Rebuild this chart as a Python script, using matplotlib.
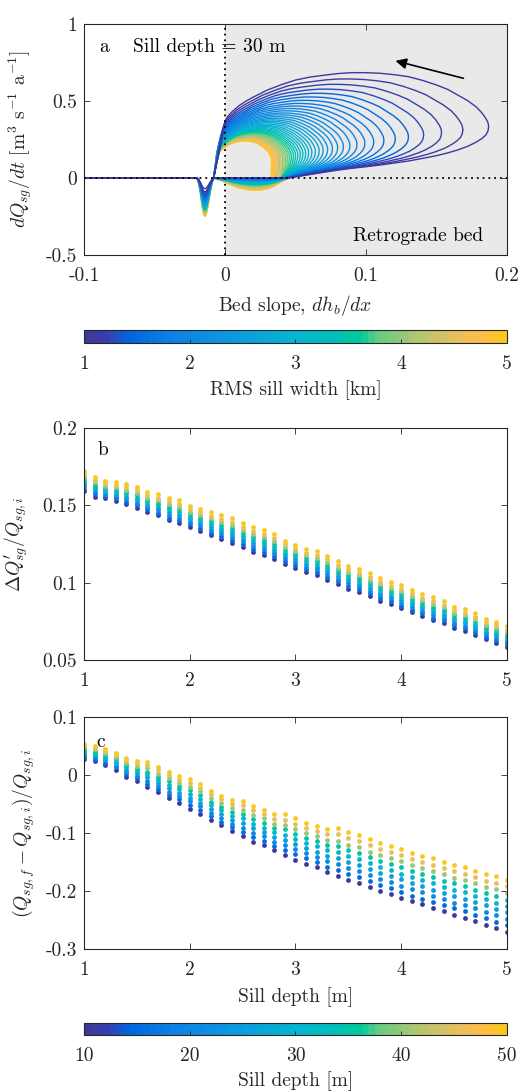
import numpy as np
import matplotlib
matplotlib.use("Agg")
import matplotlib.pyplot as plt
from matplotlib.colors import LinearSegmentedColormap, Normalize
from matplotlib.cm import ScalarMappable

plt.rcParams['font.family'] = 'serif'
plt.rcParams['font.serif'] = ['cmr10']
plt.rcParams['mathtext.fontset'] = 'cm'
plt.rcParams['axes.unicode_minus'] = False
plt.rcParams['axes.formatter.use_mathtext'] = True

# ---------------- DATA ---------------- #

# colormap anchors (parula-like)
cmap_pos = [0.0, 0.05, 0.10, 0.20, 0.35, 0.50, 0.60, 0.655, 0.70, 0.80, 0.90, 0.95, 1.0]
cmap_rgb = [(0.25, 0.22, 0.60), (0.22, 0.25, 0.68), (0.00, 0.40, 0.87), (0.05, 0.50, 0.90),
            (0.05, 0.60, 0.87), (0.02, 0.71, 0.82), (0.00, 0.75, 0.72), (0.00, 0.79, 0.60),
            (0.40, 0.80, 0.52), (0.72, 0.77, 0.44), (0.92, 0.75, 0.36), (1.00, 0.74, 0.28),
            (0.98, 0.79, 0.12)]

# panel a: one curve per RMS sill width
rms_width_km = [1.0, 1.1, 1.2, 1.3, 1.4, 1.5, 1.6, 1.7, 1.8, 1.9, 2.0, 2.1, 2.2, 2.3, 2.4, 2.5,
                2.6, 2.7, 2.8, 2.9, 3.0, 3.1, 3.2, 3.3, 3.4, 3.5, 3.6, 3.7, 3.8, 3.9, 4.0, 4.1,
                4.2, 4.3, 4.4, 4.5, 4.6, 4.7, 4.8, 4.9, 5.0]
# right-most slope reached by each loop
loop_right = [0.187, 0.1687, 0.1536, 0.1409, 0.1301, 0.1208, 0.1127, 0.1055, 0.0992, 0.0936,
              0.0886, 0.0840, 0.0799, 0.0762, 0.0728, 0.0696, 0.0668, 0.0641, 0.0616, 0.0593,
              0.0572, 0.0552, 0.0534, 0.0516, 0.0500, 0.0485, 0.0470, 0.0456, 0.0443, 0.0431,
              0.0420, 0.0409, 0.0398, 0.0388, 0.0379, 0.0370, 0.0361, 0.0353, 0.0345, 0.0337,
              0.0330]
# peak dQ/dt of each loop
loop_peak = [0.684, 0.643, 0.608, 0.577, 0.550, 0.526, 0.504, 0.484, 0.467, 0.451, 0.436,
             0.422, 0.410, 0.398, 0.387, 0.377, 0.368, 0.359, 0.350, 0.342, 0.335, 0.328,
             0.321, 0.315, 0.309, 0.303, 0.297, 0.292, 0.287, 0.282, 0.278, 0.273, 0.269,
             0.265, 0.261, 0.257, 0.254, 0.250, 0.247, 0.243, 0.240]
# slope where the lower loop branch leaves zero
loop_base = [0.045, 0.045, 0.045, 0.044, 0.044, 0.044, 0.043, 0.043, 0.043, 0.042, 0.042,
             0.042, 0.042, 0.041, 0.041, 0.041, 0.041, 0.040, 0.040, 0.040, 0.040, 0.040,
             0.040, 0.040, 0.040, 0.040, 0.040, 0.040, 0.040, 0.040, 0.040, 0.040, 0.039,
             0.038, 0.037, 0.036, 0.0355, 0.035, 0.034, 0.0333, 0.0326]
# depth of the prograde dip near dh/dx = -0.014
dip_depth = [0.070, 0.090, 0.100, 0.108, 0.115, 0.122, 0.128, 0.133, 0.139, 0.144, 0.148,
             0.153, 0.157, 0.162, 0.166, 0.170, 0.174, 0.178, 0.181, 0.185, 0.189, 0.192,
             0.196, 0.199, 0.202, 0.206, 0.209, 0.212, 0.215, 0.218, 0.221, 0.224, 0.228,
             0.230, 0.233, 0.236, 0.239, 0.242, 0.245, 0.247, 0.250]
# depth of the shallow negative band just past dh/dx = 0
bump_depth = [0.000, 0.000, 0.001, 0.002, 0.003, 0.004, 0.006, 0.007, 0.008, 0.010, 0.012,
              0.013, 0.015, 0.017, 0.018, 0.020, 0.022, 0.024, 0.026, 0.028, 0.030, 0.032,
              0.035, 0.037, 0.039, 0.041, 0.044, 0.046, 0.049, 0.051, 0.053, 0.056, 0.059,
              0.061, 0.064, 0.066, 0.069, 0.072, 0.074, 0.077, 0.080]

# outer (1 km) loop: upper branch and lower branch
outer_top_x = [-0.008, -0.006, -0.004, -0.002, 0.0, 0.002, 0.005, 0.010, 0.015, 0.020, 0.030,
               0.040, 0.050, 0.060, 0.070, 0.080, 0.090, 0.100, 0.110, 0.120, 0.130, 0.140,
               0.150, 0.158, 0.165, 0.172, 0.178, 0.182, 0.185, 0.1865, 0.187]
outer_top_y = [0.0, 0.09, 0.17, 0.26, 0.37, 0.40, 0.43, 0.47, 0.50, 0.525, 0.571, 0.606, 0.636,
               0.655, 0.667, 0.678, 0.684, 0.684, 0.680, 0.671, 0.658, 0.634, 0.604, 0.575,
               0.539, 0.503, 0.463, 0.425, 0.387, 0.360, 0.333]
outer_low_x = [0.045, 0.050, 0.055, 0.060, 0.066, 0.073, 0.081, 0.090, 0.100, 0.110, 0.120,
               0.130, 0.140, 0.150, 0.158, 0.165, 0.172, 0.178, 0.182, 0.185, 0.1865, 0.187]
outer_low_y = [0.0, 0.008, 0.015, 0.022, 0.031, 0.041, 0.052, 0.063, 0.073, 0.084, 0.097,
               0.110, 0.127, 0.145, 0.163, 0.182, 0.205, 0.232, 0.255, 0.279, 0.305, 0.333]
dip_x = [-0.020, -0.019, -0.018, -0.017, -0.016, -0.015, -0.014, -0.013, -0.012, -0.011,
         -0.010, -0.009, -0.008]
dip_shape = [0.0, 0.08, 0.25, 0.50, 0.78, 0.96, 1.0, 0.90, 0.70, 0.48, 0.27, 0.10, 0.0]
bump_x = [-0.008, -0.004, 0.0, 0.005, 0.010, 0.015, 0.020, 0.025, 0.030, 0.035, 0.040, 0.045]
bump_shape = [0.0, 0.15, 0.35, 0.60, 0.80, 0.93, 1.0, 0.98, 0.88, 0.65, 0.30, 0.0]

# panels b and c
x_bc = [1.0, 1.1, 1.2, 1.3, 1.4, 1.5, 1.6, 1.7, 1.8, 1.9, 2.0, 2.1, 2.2, 2.3, 2.4, 2.5,
        2.6, 2.7, 2.8, 2.9, 3.0, 3.1, 3.2, 3.3, 3.4, 3.5, 3.6, 3.7, 3.8, 3.9, 4.0, 4.1,
        4.2, 4.3, 4.4, 4.5, 4.6, 4.7, 4.8, 4.9, 5.0]
sill_depth_m = [10, 15, 20, 25, 30, 35, 40, 45, 50]

dq_prime = [
    [0.1592, 0.1557, 0.1547, 0.1531, 0.1508, 0.1482, 0.1460, 0.1435, 0.1403, 0.1385, 0.1360, 0.1336, 0.1306, 0.1282, 0.1256, 0.1228, 0.1198, 0.1177, 0.1151, 0.1123, 0.1097, 0.1067, 0.1048, 0.1020, 0.0990, 0.0962, 0.0940, 0.0912, 0.0882, 0.0865, 0.0833, 0.0807, 0.0784, 0.0756, 0.0741, 0.0708, 0.0689, 0.0661, 0.0633, 0.0612, 0.0584],
    [0.1608, 0.1573, 0.1561, 0.1546, 0.1524, 0.1499, 0.1475, 0.1451, 0.1421, 0.1403, 0.1377, 0.1353, 0.1324, 0.1301, 0.1275, 0.1247, 0.1218, 0.1196, 0.1170, 0.1141, 0.1115, 0.1085, 0.1067, 0.1039, 0.1008, 0.0980, 0.0958, 0.0930, 0.0900, 0.0881, 0.0851, 0.0825, 0.0801, 0.0774, 0.0757, 0.0724, 0.0706, 0.0678, 0.0649, 0.0628, 0.0600],
    [0.1623, 0.1588, 0.1574, 0.1560, 0.1539, 0.1515, 0.1490, 0.1467, 0.1438, 0.1421, 0.1393, 0.1370, 0.1342, 0.1319, 0.1294, 0.1266, 0.1237, 0.1216, 0.1190, 0.1159, 0.1133, 0.1103, 0.1085, 0.1057, 0.1026, 0.0997, 0.0976, 0.0948, 0.0918, 0.0898, 0.0870, 0.0842, 0.0818, 0.0792, 0.0774, 0.0741, 0.0722, 0.0695, 0.0665, 0.0644, 0.0616],
    [0.1638, 0.1603, 0.1588, 0.1574, 0.1554, 0.1532, 0.1505, 0.1484, 0.1456, 0.1439, 0.1409, 0.1387, 0.1361, 0.1338, 0.1313, 0.1285, 0.1257, 0.1235, 0.1209, 0.1176, 0.1151, 0.1121, 0.1104, 0.1076, 0.1043, 0.1015, 0.0994, 0.0966, 0.0936, 0.0914, 0.0888, 0.0860, 0.0835, 0.0809, 0.0790, 0.0757, 0.0739, 0.0711, 0.0681, 0.0661, 0.0632],
    [0.1653, 0.1619, 0.1601, 0.1588, 0.1570, 0.1548, 0.1520, 0.1500, 0.1474, 0.1457, 0.1426, 0.1404, 0.1379, 0.1356, 0.1332, 0.1304, 0.1277, 0.1254, 0.1228, 0.1194, 0.1169, 0.1139, 0.1122, 0.1094, 0.1061, 0.1032, 0.1012, 0.0984, 0.0954, 0.0930, 0.0906, 0.0877, 0.0852, 0.0827, 0.0807, 0.0773, 0.0755, 0.0728, 0.0697, 0.0677, 0.0648],
    [0.1669, 0.1634, 0.1615, 0.1602, 0.1585, 0.1565, 0.1535, 0.1516, 0.1491, 0.1474, 0.1442, 0.1421, 0.1397, 0.1375, 0.1351, 0.1323, 0.1296, 0.1274, 0.1248, 0.1212, 0.1186, 0.1158, 0.1141, 0.1113, 0.1079, 0.1050, 0.1030, 0.1001, 0.0971, 0.0947, 0.0925, 0.0895, 0.0869, 0.0845, 0.0823, 0.0790, 0.0772, 0.0745, 0.0713, 0.0693, 0.0664],
    [0.1684, 0.1650, 0.1628, 0.1617, 0.1601, 0.1581, 0.1550, 0.1532, 0.1509, 0.1492, 0.1459, 0.1438, 0.1415, 0.1394, 0.1370, 0.1342, 0.1316, 0.1293, 0.1267, 0.1230, 0.1204, 0.1176, 0.1160, 0.1132, 0.1097, 0.1067, 0.1047, 0.1019, 0.0989, 0.0963, 0.0943, 0.0912, 0.0886, 0.0863, 0.0840, 0.0806, 0.0788, 0.0762, 0.0729, 0.0709, 0.0680],
    [0.1700, 0.1665, 0.1642, 0.1631, 0.1616, 0.1598, 0.1565, 0.1548, 0.1526, 0.1510, 0.1475, 0.1455, 0.1434, 0.1412, 0.1390, 0.1362, 0.1336, 0.1312, 0.1286, 0.1247, 0.1222, 0.1194, 0.1178, 0.1150, 0.1114, 0.1085, 0.1065, 0.1037, 0.1007, 0.0979, 0.0962, 0.0930, 0.0902, 0.0880, 0.0856, 0.0822, 0.0805, 0.0779, 0.0745, 0.0725, 0.0696],
    [0.1720, 0.1686, 0.1660, 0.1650, 0.1637, 0.1620, 0.1585, 0.1570, 0.1550, 0.1534, 0.1497, 0.1478, 0.1458, 0.1437, 0.1415, 0.1387, 0.1362, 0.1338, 0.1312, 0.1271, 0.1246, 0.1218, 0.1203, 0.1175, 0.1138, 0.1108, 0.1089, 0.1061, 0.1031, 0.1001, 0.0986, 0.0953, 0.0925, 0.0904, 0.0878, 0.0844, 0.0827, 0.0801, 0.0766, 0.0747, 0.0717],
]

dq_final = [
    [0.028, 0.024, 0.018, 0.009, -0.003, -0.010, -0.020, -0.030, -0.040, -0.048, -0.058, -0.067, -0.077, -0.087, -0.097, -0.106, -0.115, -0.121, -0.130, -0.138, -0.146, -0.153, -0.159, -0.167, -0.174, -0.181, -0.186, -0.193, -0.200, -0.205, -0.212, -0.218, -0.223, -0.230, -0.235, -0.241, -0.246, -0.252, -0.258, -0.264, -0.270],
    [0.031, 0.027, 0.021, 0.013, 0.001, -0.006, -0.015, -0.025, -0.034, -0.042, -0.052, -0.061, -0.071, -0.081, -0.090, -0.098, -0.107, -0.113, -0.122, -0.129, -0.137, -0.144, -0.150, -0.158, -0.164, -0.171, -0.176, -0.183, -0.190, -0.195, -0.201, -0.208, -0.213, -0.219, -0.224, -0.230, -0.235, -0.241, -0.247, -0.253, -0.259],
    [0.035, 0.031, 0.025, 0.016, 0.005, -0.002, -0.010, -0.019, -0.029, -0.037, -0.045, -0.054, -0.065, -0.074, -0.084, -0.091, -0.100, -0.106, -0.115, -0.121, -0.128, -0.135, -0.141, -0.149, -0.154, -0.160, -0.166, -0.173, -0.179, -0.185, -0.191, -0.197, -0.202, -0.209, -0.214, -0.220, -0.224, -0.230, -0.236, -0.242, -0.248],
    [0.038, 0.034, 0.028, 0.020, 0.009, 0.003, -0.004, -0.014, -0.023, -0.031, -0.039, -0.048, -0.058, -0.068, -0.077, -0.083, -0.092, -0.098, -0.107, -0.112, -0.119, -0.126, -0.132, -0.139, -0.143, -0.150, -0.155, -0.162, -0.169, -0.174, -0.180, -0.187, -0.192, -0.198, -0.203, -0.209, -0.213, -0.219, -0.225, -0.231, -0.237],
    [0.041, 0.037, 0.031, 0.023, 0.013, 0.007, 0.001, -0.008, -0.017, -0.025, -0.032, -0.041, -0.052, -0.061, -0.070, -0.075, -0.084, -0.091, -0.099, -0.103, -0.110, -0.117, -0.123, -0.130, -0.133, -0.140, -0.145, -0.152, -0.158, -0.164, -0.170, -0.176, -0.181, -0.187, -0.193, -0.198, -0.202, -0.208, -0.214, -0.220, -0.226],
    [0.044, 0.040, 0.034, 0.027, 0.017, 0.011, 0.006, -0.003, -0.011, -0.019, -0.026, -0.034, -0.046, -0.055, -0.063, -0.067, -0.076, -0.083, -0.091, -0.094, -0.102, -0.108, -0.114, -0.121, -0.123, -0.130, -0.135, -0.142, -0.148, -0.154, -0.159, -0.166, -0.171, -0.176, -0.182, -0.187, -0.192, -0.198, -0.204, -0.208, -0.215],
    [0.048, 0.044, 0.038, 0.031, 0.021, 0.016, 0.012, 0.002, -0.006, -0.014, -0.020, -0.028, -0.040, -0.049, -0.057, -0.060, -0.069, -0.075, -0.084, -0.086, -0.093, -0.100, -0.106, -0.112, -0.113, -0.120, -0.125, -0.132, -0.138, -0.144, -0.148, -0.155, -0.160, -0.166, -0.171, -0.177, -0.181, -0.187, -0.193, -0.197, -0.203],
    [0.051, 0.047, 0.041, 0.034, 0.025, 0.020, 0.017, 0.008, 0.000, -0.008, -0.013, -0.022, -0.033, -0.042, -0.050, -0.052, -0.061, -0.068, -0.076, -0.077, -0.084, -0.091, -0.097, -0.102, -0.102, -0.109, -0.114, -0.121, -0.127, -0.133, -0.138, -0.145, -0.150, -0.155, -0.161, -0.166, -0.170, -0.176, -0.182, -0.186, -0.192],
    [0.054, 0.050, 0.044, 0.038, 0.029, 0.024, 0.022, 0.013, 0.006, -0.002, -0.007, -0.015, -0.027, -0.036, -0.043, -0.044, -0.053, -0.060, -0.068, -0.068, -0.075, -0.082, -0.088, -0.093, -0.092, -0.099, -0.104, -0.111, -0.117, -0.123, -0.127, -0.134, -0.139, -0.144, -0.150, -0.155, -0.159, -0.165, -0.171, -0.175, -0.181],
]

# tick labels
a_xticks = [-0.1, 0, 0.1, 0.2]
a_xlabels = ['-0.1', '0', '0.1', '0.2']
a_yticks = [-0.5, 0, 0.5, 1]
a_ylabels = ['-0.5', '0', '0.5', '1']
b_yticks = [0.05, 0.1, 0.15, 0.2]
b_ylabels = ['0.05', '0.1', '0.15', '0.2']
c_yticks = [-0.3, -0.2, -0.1, 0, 0.1]
c_ylabels = ['-0.3', '-0.2', '-0.1', '0', '0.1']
bc_xticks = [1, 2, 3, 4, 5]
cb1_ticks = [1, 2, 3, 4, 5]
cb2_ticks = [10, 20, 30, 40, 50]

# ---------------- FIGURE ---------------- #

cmap = LinearSegmentedColormap.from_list('parula_like', list(zip(cmap_pos, cmap_rgb)), N=64)
axcol = '#262626'
fs = 14

fig = plt.figure(figsize=(5.2, 10.91), dpi=100)


def style(ax):
    ax.tick_params(direction='in', top=True, right=True, length=4, width=0.6,
                   labelsize=fs, colors=axcol)
    ax.tick_params(axis='x', pad=9)
    ax.tick_params(axis='y', pad=5)
    for s in ax.spines.values():
        s.set_color(axcol)
        s.set_linewidth(0.8)


# panel a
ax_a = fig.add_axes([0.1615, 0.7663, 0.8135, 0.2117])
ax_a.axvspan(0, 0.2, color='#e9e9e9', zorder=0, lw=0)
norm_w = Normalize(1, 5)
top_x = np.array(outer_top_x)
top_y = np.array(outer_top_y)
low_x = np.array(outer_low_x)
low_y = np.array(outer_low_y)
for k in range(len(rms_width_km) - 1, -1, -1):
    col = cmap(norm_w(rms_width_km[k]))
    ys = loop_peak[k] / outer_top_y[16]
    tx = -0.008 + (top_x + 0.008) * (loop_right[k] + 0.008) / (0.187 + 0.008)
    ty = top_y * ys
    lx = loop_base[k] + (low_x - 0.045) * (loop_right[k] - loop_base[k]) / (0.187 - 0.045)
    ly = low_y * ys
    xs = np.concatenate([[-0.1], dip_x, bump_x, lx, tx[::-1]])
    yy = np.concatenate([[0.0], -dip_depth[k] * np.array(dip_shape),
                         -bump_depth[k] * np.array(bump_shape), ly, ty[::-1]])
    ax_a.plot(xs, yy, color=col, lw=1.0, zorder=2)
ax_a.axhline(0, color='k', ls=(0, (1, 2.2)), lw=1.3, zorder=3)
ax_a.axvline(0, color='k', ls=(0, (1, 2.2)), lw=1.3, zorder=3)
ax_a.annotate('', xy=(0.119, 0.765), xytext=(0.171, 0.643),
              arrowprops=dict(arrowstyle='-|>', color='k', lw=1.2, mutation_scale=16))
ax_a.text(-0.089, 0.853, 'a', fontsize=fs, va='center', ha='left')
ax_a.text(-0.065, 0.853, 'Sill depth = 30 m', fontsize=fs, va='center', ha='left')
ax_a.text(0.183, -0.38, 'Retrograde bed', fontsize=fs, va='center', ha='right')
ax_a.set_xlim(-0.1, 0.2)
ax_a.set_ylim(-0.5, 1)
ax_a.set_xticks(a_xticks)
ax_a.set_xticklabels(a_xlabels)
ax_a.set_yticks(a_yticks)
ax_a.set_yticklabels(a_ylabels)
ax_a.set_xlabel('Bed slope, $dh_b/dx$', fontsize=fs, color=axcol)
ax_a.set_ylabel('$dQ_{sg}/dt$ [m$^3$ s$^{-1}$ a$^{-1}$]', fontsize=fs, color=axcol)
ax_a.xaxis.set_label_coords(0.5, -0.165)
ax_a.yaxis.set_label_coords(-0.118, 0.5)
style(ax_a)

# colorbar 1
cax1 = fig.add_axes([0.1615, 0.6856, 0.8135, 0.0119])
cb1 = fig.colorbar(ScalarMappable(norm=norm_w, cmap=cmap), cax=cax1, orientation='horizontal')
cb1.set_ticks(cb1_ticks)
cb1.set_ticklabels([str(t) for t in cb1_ticks])
cb1.ax.tick_params(direction='in', length=3, width=0.6, labelsize=fs, colors=axcol, pad=9)
cb1.outline.set_edgecolor(axcol)
cb1.outline.set_linewidth(0.8)
cb1.set_label('RMS sill width [km]', fontsize=fs, color=axcol, labelpad=5)

# panel b
norm_d = Normalize(10, 50)
ax_b = fig.add_axes([0.1615, 0.3951, 0.8135, 0.2126])
for j, dep in enumerate(sill_depth_m):
    ax_b.scatter(x_bc, dq_prime[j], s=12, color=cmap(norm_d(dep)), linewidths=0, zorder=2)
ax_b.text(1.13, 0.186, 'b', fontsize=fs, va='center', ha='left')
ax_b.set_xlim(1, 5)
ax_b.set_ylim(0.05, 0.2)
ax_b.set_xticks(bc_xticks)
ax_b.set_xticklabels([str(t) for t in bc_xticks])
ax_b.set_yticks(b_yticks)
ax_b.set_yticklabels(b_ylabels)
ax_b.set_ylabel("$\\Delta Q^{\\prime}_{sg}/Q_{sg,i}$", fontsize=fs, color=axcol)
ax_b.yaxis.set_label_coords(-0.125, 0.5)
style(ax_b)

# panel c
ax_c = fig.add_axes([0.1615, 0.1302, 0.8135, 0.2126])
for j, dep in enumerate(sill_depth_m):
    ax_c.scatter(x_bc, dq_final[j], s=12, color=cmap(norm_d(dep)), linewidths=0, zorder=2)
ax_c.text(1.12, 0.057, 'c', fontsize=fs, va='center', ha='left')
ax_c.set_xlim(1, 5)
ax_c.set_ylim(-0.3, 0.1)
ax_c.set_xticks(bc_xticks)
ax_c.set_xticklabels([str(t) for t in bc_xticks])
ax_c.set_yticks(c_yticks)
ax_c.set_yticklabels(c_ylabels)
ax_c.set_xlabel('Sill depth [m]', fontsize=fs, color=axcol)
ax_c.set_ylabel('$(Q_{sg,f} - Q_{sg,i})/Q_{sg,i}$', fontsize=fs, color=axcol)
ax_c.xaxis.set_label_coords(0.5, -0.165)
ax_c.yaxis.set_label_coords(-0.112, 0.5)
style(ax_c)

# colorbar 2
cax2 = fig.add_axes([0.1615, 0.0513, 0.8135, 0.011])
cb2 = fig.colorbar(ScalarMappable(norm=norm_d, cmap=cmap), cax=cax2, orientation='horizontal')
cb2.set_ticks(cb2_ticks)
cb2.set_ticklabels([str(t) for t in cb2_ticks])
cb2.ax.tick_params(direction='in', length=3, width=0.6, labelsize=fs, colors=axcol, pad=9)
cb2.outline.set_edgecolor(axcol)
cb2.outline.set_linewidth(0.8)
cb2.set_label('Sill depth [m]', fontsize=fs, color=axcol, labelpad=4)

fig.savefig('out.png', dpi=100)
